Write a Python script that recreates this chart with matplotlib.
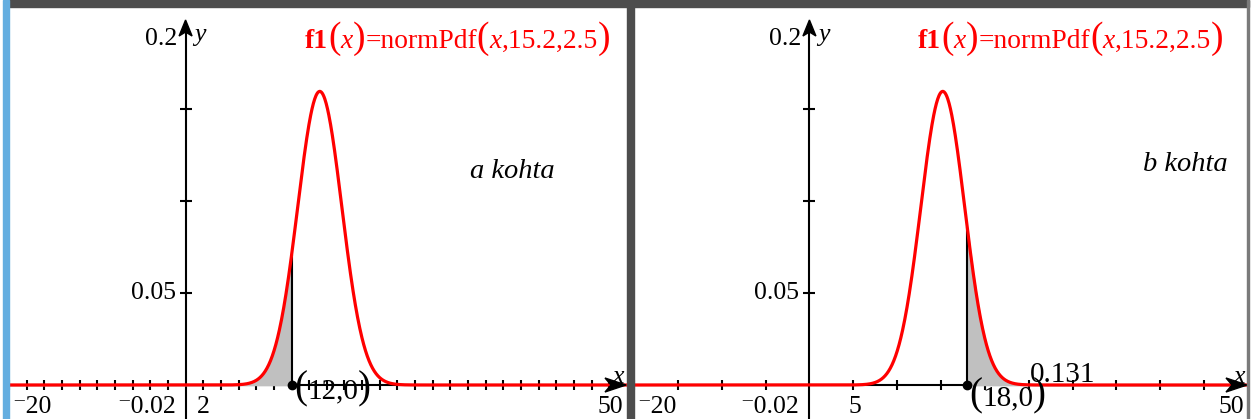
import numpy as np
import matplotlib
matplotlib.use('Agg')
import matplotlib.pyplot as plt
from matplotlib.transforms import IdentityTransform
from matplotlib.patches import Rectangle, Polygon

# normal distribution parameters and shaded bounds
mu = 15.2
sigma = 2.5
a_bound = 12     # shade left of this
b_bound = 18     # shade right of this
b_area = '0.131'

x_min, x_max = -20, 50
left_xticks = list(range(-20, 49, 2))
right_xticks = list(range(-20, 49, 5))
y_ticks = [0.05, 0.10, 0.15]

W, H = 1252, 419
SERIF = ['Liberation Serif', 'DejaVu Serif']
RED = '#ff0000'
TICK_FS = 18.5

def normpdf(x):
    return np.exp(-0.5 * ((x - mu) / sigma) ** 2) / (sigma * np.sqrt(2 * np.pi))

fig = plt.figure(figsize=(W / 100, H / 100), dpi=100)
fig.patch.set_facecolor('white')

# frame decorations (pixel coords, y down)
def px_rect(x0, y0, w, h, color):
    fig.patches.append(Rectangle((x0 / W, 1 - (y0 + h) / H), w / W, h / H,
                                 transform=fig.transFigure, color=color, zorder=10))

px_rect(9, 0, 1240, 7, '#4d4d4d')
px_rect(3, 0, 6, H, '#64aee0')
px_rect(627, 0, 7, H, '#4d4d4d')
px_rect(1247, 0, 2, H, '#7a7a7a')

# y: 0 at pixel row 385, 1840 px per unit
py_zero, y_scale = 385.0, 1840.0
top_px, bot_px = 7, 419
y_lo = -(bot_px - py_zero) / y_scale
y_hi = (py_zero - top_px) / y_scale


def make_panel(px0, px1):
    ax = fig.add_axes([px0 / W, 1 - bot_px / H, (px1 - px0) / W, (bot_px - top_px) / H])
    ax.set_xlim(x_min, x_max)
    ax.set_ylim(y_lo, y_hi)
    ax.axis('off')
    sx = (x_max - x_min) / (px1 - px0)
    sy = (y_hi - y_lo) / (bot_px - top_px)
    return ax, sx, sy


def draw_axes(ax, sx, sy, xticks):
    # axes lines
    ax.plot([x_min, x_max - 10 * sx], [0, 0], color='black', lw=1.5, zorder=2)
    ax.plot([0, 0], [y_lo, 0.2 - 10 * sy], color='black', lw=1.5, zorder=2)
    # x ticks and y ticks
    xt = [t for t in xticks if t != 0]
    ax.plot(xt, [0] * len(xt), ls='none', marker='|', ms=7.5, mew=1.5, color='black', zorder=2)
    ax.plot([0] * len(y_ticks), y_ticks, ls='none', marker='_', ms=8, mew=1.5, color='black', zorder=2)
    # arrowheads
    tip = x_max - 1 * sx
    ax.add_patch(Polygon([(tip, 0), (tip - 21 * sx, 7 * sy), (tip - 15 * sx, 0),
                          (tip - 21 * sx, -7 * sy)], closed=True, color='black', zorder=6))
    ytip = 0.2 - 3 * sy
    ax.add_patch(Polygon([(0, ytip), (6.5 * sx, ytip - 16 * sy), (0, ytip - 12 * sy),
                          (-6.5 * sx, ytip - 16 * sy)], closed=True, color='black', zorder=6))
    ax.text(x_max - 3 * sx, 0 + 2 * sy, 'x', style='italic', fontsize=TICK_FS, family=SERIF,
            ha='right', va='baseline', zorder=7)
    ax.text(9 * sx, 0.2 - 24 * sy, 'y', style='italic', fontsize=TICK_FS, family=SERIF,
            ha='left', va='baseline', zorder=7)
    ax.text(-8 * sx, 0.2 - 28 * sy, '0.2', fontsize=TICK_FS, family=SERIF, ha='right',
            va='baseline', zorder=7)
    ax.text(-10 * sx, 0.05, '0.05', fontsize=TICK_FS, family=SERIF, ha='right', va='center', zorder=7)
    ax.text(-10 * sx, y_lo + 6 * sy, '\u207b0.02', fontsize=TICK_FS, family=SERIF, ha='right',
            va='baseline', zorder=7)
    ax.text(x_min + 3 * sx, y_lo + 6 * sy, '\u207b20', fontsize=TICK_FS, family=SERIF, ha='left',
            va='baseline', zorder=7)
    ax.text(x_max - 4 * sx, y_lo + 6 * sy, '50', fontsize=TICK_FS, family=SERIF, ha='right',
            va='baseline', zorder=7)


def text_runs(x, y, parts, zorder=8):
    # lay out text pieces left to right in pixel coords (y down)
    r = fig.canvas.get_renderer()
    for s, kw in parts:
        t = fig.text(x, H - y, s, transform=IdentityTransform(), va='baseline',
                     family=SERIF, zorder=zorder, **kw)
        x = t.get_window_extent(r).x1


xs = np.linspace(x_min, x_max, 1400)

# ---- left panel: P(X < 12)
axl, sxl, syl = make_panel(9, 627)
draw_axes(axl, sxl, syl, left_xticks)
xa = xs[xs <= a_bound]
xa = np.append(xa, a_bound)
axl.fill_between(xa, 0, normpdf(xa), color='#c0c0c0', zorder=3)
axl.plot([a_bound, a_bound], [0, normpdf(a_bound)], color='black', lw=1.5, zorder=4)
axl.plot(xs, normpdf(xs), color=RED, lw=2.3, zorder=5)
axl.plot([a_bound], [0], 'o', color='black', ms=6, zorder=6)
axl.text(1.3, y_lo + 6 * syl, '2', fontsize=TICK_FS, family=SERIF, ha='left',
         va='baseline', zorder=7)
axl.text(37.0, 0.1158, 'a kohta', fontsize=20.5, style='italic', family=SERIF,
         ha='center', va='center', zorder=7)

# ---- right panel: P(X > 18)
axr, sxr, syr = make_panel(634, 1248)
draw_axes(axr, sxr, syr, right_xticks)
xb = xs[xs >= b_bound]
xb = np.insert(xb, 0, b_bound)
axr.fill_between(xb, 0, normpdf(xb), color='#c0c0c0', zorder=3)
axr.plot([b_bound, b_bound], [0, normpdf(b_bound)], color='black', lw=1.5, zorder=4)
axr.plot(xs, normpdf(xs), color=RED, lw=2.3, zorder=5)
axr.plot([b_bound], [0], 'o', color='black', ms=6, zorder=6)
axr.text(5.2, y_lo + 6 * syr, '5', fontsize=TICK_FS, family=SERIF, ha='center',
         va='baseline', zorder=7)
axr.text(42.8, 0.1196, 'b kohta', fontsize=20.5, style='italic', family=SERIF,
         ha='center', va='center', zorder=7)
axr.text(25.1, 0 + 3 * syr, b_area, fontsize=21, family=SERIF, ha='left',
         va='baseline', zorder=7)

# function labels and point labels
fs, pfs = 19.8, 27
for x0 in (305, 918):
    text_runs(x0, 48, [
        ('f1', dict(fontsize=fs, weight='bold', color=RED)),
        ('(', dict(fontsize=pfs, color=RED)),
        ('x', dict(fontsize=fs, style='italic', color=RED)),
        (')', dict(fontsize=pfs, color=RED)),
        ('=normPdf', dict(fontsize=fs, color=RED)),
        ('(', dict(fontsize=pfs, color=RED)),
        ('x', dict(fontsize=fs, style='italic', color=RED)),
        (',15.2,2.5', dict(fontsize=fs, color=RED)),
        (')', dict(fontsize=pfs, color=RED)),
    ])

cfs, cpfs = 21, 28
text_runs(294, 398, [('(', dict(fontsize=cpfs)), ('12,0', dict(fontsize=cfs)),
                     (')', dict(fontsize=cpfs))])
text_runs(969, 405, [('(', dict(fontsize=cpfs)), ('18,0', dict(fontsize=cfs)),
                     (')', dict(fontsize=cpfs))])

fig.savefig('out.png', dpi=100)
